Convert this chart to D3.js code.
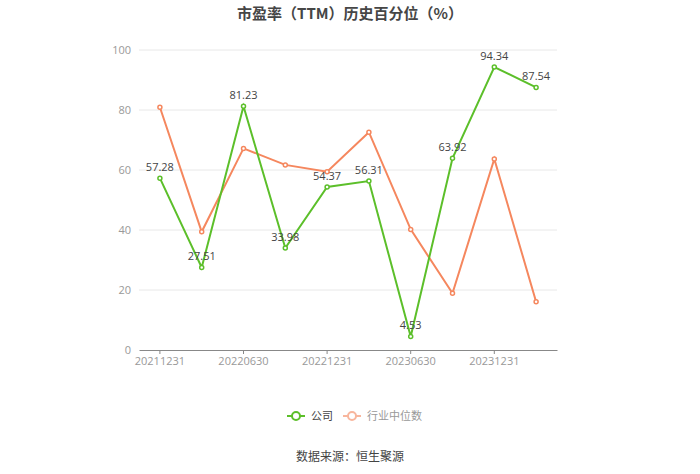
<!DOCTYPE html>
<html>
<head>
<meta charset="utf-8" />
<title>市盈率（TTM）历史百分位（%）</title>
<style>
  body { margin: 0; background: #fff; font-family: "Noto Sans CJK SC", "Microsoft YaHei", sans-serif; }
  #chart { width: 700px; height: 474px; }
</style>
</head>
<body>
<div id="chart"></div>
<script src="https://cdn.jsdelivr.net/npm/d3@7/dist/d3.min.js"></script>
<script>
  const dates = ["20211231", "20220331", "20220630", "20220930", "20221231",
                 "20230331", "20230630", "20230930", "20231231", "20240331"];
  const company = [57.28, 27.51, 81.23, 33.98, 54.37, 56.31, 4.53, 63.92, 94.34, 87.54];
  const industry = [80.9, 39.4, 67.2, 61.7, 59.4, 72.6, 40.2, 18.9, 63.7, 16.1];
  const yTicks = [0, 20, 40, 60, 80, 100];

  const width = 700, height = 474;
  const plotLeft = 139, plotRight = 557, plotTop = 50, plotBottom = 350;
  const green = "#5cbf2a", orange = "#f5875e";

  const svg = d3.select("#chart").append("svg")
    .attr("width", width)
    .attr("height", height);

  // title
  svg.append("text")
    .attr("x", width / 2)
    .attr("y", 19)
    .attr("text-anchor", "middle")
    .attr("font-size", 15)
    .attr("font-weight", "bold")
    .attr("fill", "#464646")
    .text("市盈率（TTM）历史百分位（%）");

  const x = d3.scaleBand().domain(dates).range([plotLeft, plotRight]);
  const y = d3.scaleLinear().domain([0, 100]).range([plotBottom, plotTop]);
  const cx = d => x(d) + x.bandwidth() / 2;

  // grid lines
  svg.append("g")
    .selectAll("line")
    .data(yTicks.slice(1))
    .join("line")
    .attr("x1", plotLeft).attr("x2", plotRight)
    .attr("y1", d => y(d)).attr("y2", d => y(d))
    .attr("stroke", "#e8e8e8");

  // y axis labels
  const yAxis = d3.axisLeft(y).tickValues(yTicks).tickSize(0).tickPadding(8);
  svg.append("g")
    .attr("transform", "translate(" + plotLeft + ",0)")
    .call(yAxis)
    .call(g => g.select(".domain").remove())
    .selectAll("text")
    .attr("fill", "#999")
    .attr("font-size", 11)
    .attr("font-family", "\"Open Sans\", sans-serif");

  // x axis
  const xAxis = d3.axisBottom(x)
    .tickValues(dates.filter((d, i) => i % 2 == 0))
    .tickSize(4)
    .tickSizeOuter(0)
    .tickPadding(3);
  const xg = svg.append("g")
    .attr("transform", "translate(0," + plotBottom + ")")
    .call(xAxis);
  xg.select(".domain").attr("stroke", "#888");
  xg.selectAll(".tick line").attr("stroke", "#888");
  xg.selectAll("text")
    .attr("fill", "#999")
    .attr("font-size", 11)
    .attr("font-family", "\"Open Sans\", sans-serif");

  const line = d3.line()
    .x((d, i) => cx(dates[i]))
    .y(d => y(d));

  function drawSeries(values, color) {
    svg.append("path")
      .datum(values)
      .attr("d", line)
      .attr("fill", "none")
      .attr("stroke", color)
      .attr("stroke-width", 2);
    svg.append("g")
      .selectAll("circle")
      .data(values)
      .join("circle")
      .attr("cx", (d, i) => cx(dates[i]))
      .attr("cy", d => y(d))
      .attr("r", 2)
      .attr("fill", "#fff")
      .attr("stroke", color)
      .attr("stroke-width", 1.5);
  }

  drawSeries(industry, orange);
  drawSeries(company, green);

  // value labels for company
  svg.append("g")
    .selectAll("text")
    .data(company)
    .join("text")
    .attr("x", (d, i) => cx(dates[i]))
    .attr("y", d => y(d) - 7)
    .attr("text-anchor", "middle")
    .attr("font-size", 11)
    .attr("fill", "#444")
    .attr("font-family", "\"Open Sans\", sans-serif")
    .text(d => d.toFixed(2));

  // legend
  const legend = [
    { name: "公司", color: green, text: "#444", x: 287 },
    { name: "行业中位数", color: "#f8b69d", text: "#999", x: 343 }
  ];
  const lg = svg.append("g").selectAll("g").data(legend).join("g")
    .attr("transform", d => "translate(" + d.x + ",416)");
  lg.append("line")
    .attr("x1", 0).attr("x2", 18)
    .attr("stroke", d => d.color)
    .attr("stroke-width", 2);
  lg.append("circle")
    .attr("cx", 9).attr("r", 4)
    .attr("fill", "#fff")
    .attr("stroke", d => d.color)
    .attr("stroke-width", 2);
  lg.append("text")
    .attr("x", 24)
    .attr("dy", "0.35em")
    .attr("font-size", 11)
    .attr("fill", d => d.text)
    .text(d => d.name);

  // source
  svg.append("text")
    .attr("x", width / 2)
    .attr("y", 461)
    .attr("text-anchor", "middle")
    .attr("font-size", 12)
    .attr("fill", "#444")
    .text("数据来源：恒生聚源");
</script>
</body>
</html>
